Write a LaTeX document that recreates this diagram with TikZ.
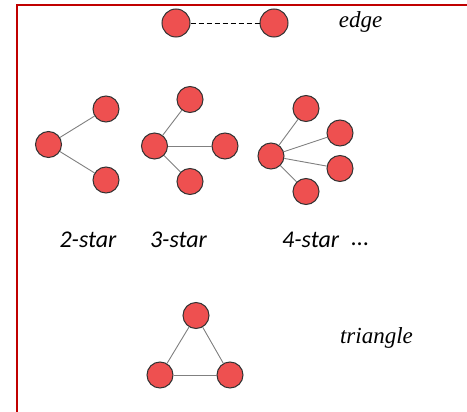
\documentclass[tikz,border=0pt]{standalone}
\usepackage{fontspec}
\setmainfont{Liberation Serif}
\newfontfamily\labsans{Carlito}
\definecolor{frame}{HTML}{C00000}
\definecolor{vfill}{HTML}{EE5050}
\tikzset{
  vtx/.style={circle, draw=black!80, line width=1pt, fill=vfill, minimum size=26pt, inner sep=0pt},
  bigvtx/.style={vtx, minimum size=28pt},
  link/.style={draw=black!50, line width=0.9pt},
  dlink/.style={draw=black, line width=0.9pt, dash pattern=on 5pt off 3pt},
  serlab/.style={font=\fontsize{23}{26}\selectfont\itshape, inner sep=0pt},
  sanslab/.style={font=\labsans\fontsize{24}{28}\selectfont\itshape, inner sep=0pt}
}
\begin{document}
\begin{tikzpicture}[x=1pt,y=-1pt]
\useasboundingbox (0,0) rectangle (467,412);
\fill[white] (0,0) rectangle (467,412);
\draw[frame, line width=2pt] (467,5) -- (17,5) -- (17,413);
% edge
\node[bigvtx] (e1) at (176,23) {};
\node[bigvtx] (e2) at (274,23) {};
\draw[dlink] (e1) -- (e2);
\node[serlab] (le) at (360.5,22) {edge};
% 2-star
\node[vtx] (a0) at (48.5,144.5) {};
\node[vtx] (a1) at (106,109) {};
\node[vtx] (a2) at (106,180) {};
\draw[link] (a0) -- (a1);
\draw[link] (a0) -- (a2);
% 3-star
\node[vtx] (b0) at (154.5,146) {};
\node[vtx] (b1) at (190,99.5) {};
\node[vtx] (b2) at (225,146) {};
\node[vtx] (b3) at (190,181.5) {};
\draw[link] (b0) -- (b1);
\draw[link] (b0) -- (b2);
\draw[link] (b0) -- (b3);
% 4-star
\node[vtx] (c0) at (271,156) {};
\node[vtx] (c1) at (306,108.5) {};
\node[vtx] (c2) at (340,133) {};
\node[vtx] (c3) at (340,168.5) {};
\node[vtx] (c4) at (306,191.5) {};
\draw[link] (c0) -- (c1);
\draw[link] (c0) -- (c2);
\draw[link] (c0) -- (c3);
\draw[link] (c0) -- (c4);
% labels
\node[sanslab] (l2) at (88,240) {2-star};
\node[sanslab] (l3) at (178.5,240) {3-star};
\node[sanslab, anchor=west] (l4) at (282,240) {4-star};
\node[sanslab, anchor=base west] (ld) at (351,246) {...};
% triangle
\node[vtx] (t1) at (196,315.5) {};
\node[vtx] (t2) at (160,375) {};
\node[vtx] (t3) at (230,375) {};
\draw[link] (t1) -- (t2);
\draw[link] (t2) -- (t3);
\draw[link] (t3) -- (t1);
\node[serlab] (lt) at (376.5,338) {triangle};
\end{tikzpicture}
\end{document}
